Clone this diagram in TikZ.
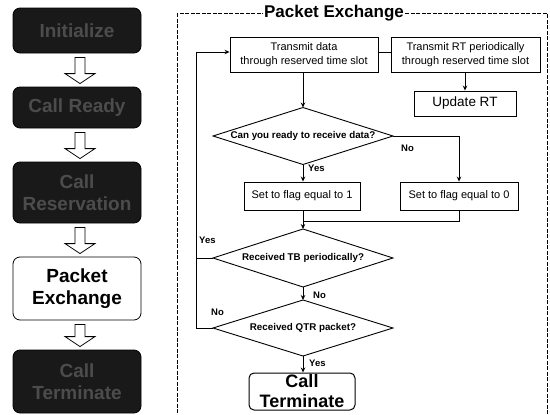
\documentclass[tikz,border=0pt]{standalone}
\usepackage{fontspec}
\setmainfont{Liberation Sans}
\usetikzlibrary{arrows.meta,calc}
\tikzset{
  stage/.style={rounded corners=7pt, inner sep=0pt, align=center,
    font=\bfseries\fontsize{19}{22}\selectfont, minimum width=128pt},
  darkstage/.style={stage, fill=black!90, draw=black, line width=0.8pt, text=black!70},
  openstage/.style={stage, draw=black, line width=0.8pt, fill=white},
  procbox/.style={draw, line width=0.9pt, inner sep=0pt, align=center,
    font=\fontsize{11}{14}\selectfont},
  qtext/.style={font=\bfseries\fontsize{9.8}{11}\selectfont, inner sep=0pt},
  lbl/.style={font=\bfseries\fontsize{9.5}{10}\selectfont, inner sep=0pt, anchor=west},
  flow/.style={line width=1pt, -{Stealth[length=5pt,width=4.5pt]}},
  wire/.style={line width=1pt},
  diam/.style={draw, line width=0.9pt},
  hollow/.style={draw, line width=0.8pt, fill=white},
  frame/.style={line width=0.8pt, dash pattern=on 4pt off 1.5pt},
}
% hollow block arrow pointing down from one stage to the next
\newcommand{\hollowdown}[2]{%
  \path let \p1=($(#1.south)+(3,4)$), \p2=($(#2.north)+(3,-3)$) in
    [hollow] (\x1-5pt,\y1) -- (\x1+5pt,\y1) -- (\x1+5pt,\y2+10pt)
    -- (\x1+15pt,\y2+10pt) -- (\x1,\y2) -- (\x1-15pt,\y2+10pt)
    -- (\x1-5pt,\y2+10pt) -- cycle;}
% decision diamond: name, centre, half width, half height, text
\newcommand{\decision}[5]{%
  \coordinate (#1) at #2;
  \coordinate (#1n) at ($(#1)+(0,-#4)$);
  \coordinate (#1s) at ($(#1)+(0,#4)$);
  \coordinate (#1w) at ($(#1)+(-#3,0)$);
  \coordinate (#1e) at ($(#1)+(#3,0)$);
  \draw[diam] (#1n) -- (#1e) -- (#1s) -- (#1w) -- cycle;
  \node[qtext] (#1t) at (#1) {#5};}
\begin{document}
\begin{tikzpicture}[x=1pt,y=-1pt]
\useasboundingbox (0,0) rectangle (550,415);

% ---- call phases ----
\node[darkstage, minimum height=45pt] (s1) at (77,30.5) {Initialize};
\node[darkstage, minimum height=41pt] (s2) at (77,107.5) {Call Ready};
\node[darkstage, minimum height=61pt] (s3) at (77,192.5) {Call\\Reservation};
\node[openstage, minimum height=63pt] (s4) at (77,288.5) {Packet\\Exchange};
\node[darkstage, minimum height=63pt] (s5) at (77,381.5) {Call\\Terminate};
\hollowdown{s1}{s2}
\hollowdown{s2}{s3}
\hollowdown{s3}{s4}
\hollowdown{s4}{s5}

% ---- packet exchange frame ----
\draw[frame] (177,13) rectangle (547,430);
\node[fill=white, inner sep=1pt, font=\bfseries\fontsize{17}{19}\selectfont]
  (title) at (334,13) {Packet Exchange};

% ---- process boxes ----
\node[procbox, minimum width=148pt, minimum height=35pt] (b1) at (304,54.5)
  {Transmit data\\through reserved time slot};
\node[procbox, minimum width=149pt, minimum height=35pt] (b2) at (465.5,54.5)
  {Transmit RT periodically\\through reserved time slot};
\node[procbox, minimum width=102pt, minimum height=25pt,
  font=\fontsize{13.5}{15}\selectfont] (upd) at (465,103.5) {Update RT};
\node[procbox, minimum width=116pt, minimum height=28pt] (f1) at (302,196)
  {Set to flag equal to 1};
\node[procbox, minimum width=118pt, minimum height=28pt] (f0) at (459,196)
  {Set to flag equal to 0};
\node[draw, line width=1pt, rounded corners=5pt, inner sep=0pt, align=center,
  minimum width=106pt, minimum height=37pt,
  font=\bfseries\fontsize{18}{20}\selectfont] (ct) at (302,391.5)
  {Call\\Terminate};

% ---- decisions ----
\decision{d1}{(303,136)}{90}{28.5}{Can you ready to receive data?}
\decision{d2}{(303,258)}{90}{29}{Received TB periodically?}
\decision{d3}{(303,328)}{90}{28}{Received QTR packet?}

% ---- connectors ----
\coordinate (lx) at (196,0);
\coordinate (b1in) at ($(b1.west)+(0,-2.5)$);
\coordinate (m1) at (303,221);
\draw[wire] ($(b1.east)+(0,-2.5)$) -- ($(b2.west)+(0,-2.5)$);
\draw[flow] (b1.south -| d1n) -- (d1n);
\draw[flow] (b2.south -| upd.north) -- (upd.north);
\draw[flow] (d1s) -- (d1s |- f1.north);
\draw[flow] (d1e) -| (f0.north);
\draw[wire] (f0.south) |- (m1);
\draw[flow] (d1s |- f1.south) -- (d2n);
\draw[flow] (d2s) -- (d3n);
\draw[flow] (d3s) -- (d3s |- ct.north);
\draw[flow] (d2w) -- (d2w -| lx) -- (lx |- b1in) -- (b1in);
\draw[wire] (d3w) -- (d3w -| lx) -- (d2w -| lx);

% ---- branch labels ----
\node[lbl] (l1) at (401,148) {No};
\node[lbl] (l2) at (308,168) {Yes};
\node[lbl] (l3) at (199,240) {Yes};
\node[lbl] (l4) at (313,295) {No};
\node[lbl] (l5) at (211,312) {No};
\node[lbl] (l6) at (309,363) {Yes};
\end{tikzpicture}
\end{document}
